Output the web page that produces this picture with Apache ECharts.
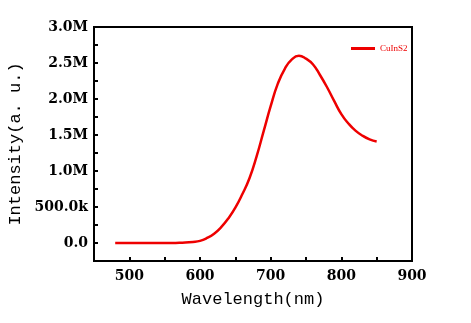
<!DOCTYPE html>
<html><head><meta charset="utf-8">
<script src="https://cdn.jsdelivr.net/npm/echarts@6/dist/echarts.min.js"></script>
<style>html,body{margin:0;padding:0;background:#fff}#c{width:471px;height:323px}</style>
</head><body><div id="c"></div>
<script>
const wavelength = [480,500,520,540,560,575,590,600,610,620,630,640,650,660,670,680,690,700,710,720,730,740,750,760,770,780,790,800,810,820,830,840,850];
const intensity = [0,0,0,0,0,5000,15000,30000,70000,130000,220000,340000,490000,680000,900000,1200000,1550000,1900000,2210000,2420000,2550000,2600000,2560000,2480000,2330000,2160000,1970000,1790000,1660000,1560000,1490000,1440000,1410000];
const seriesName = 'CuInS2';
const yTickLabels = {0:'0.0',500000:'500.0k',1000000:'1.0M',1500000:'1.5M',2000000:'2.0M',2500000:'2.5M',3000000:'3.0M'};

const chart = echarts.init(document.getElementById('c'));
chart.setOption({
  animation:false,
  grid:{left:94,right:59,top:27,bottom:62,show:true,borderColor:'#000',borderWidth:2,
    containLabel:false,outerBoundsMode:'none'},
  legend:{show:true,left:351,top:44,padding:0,itemWidth:24,itemHeight:3,itemGap:0,icon:'rect',
    textStyle:{color:'#ee0000',fontFamily:'Liberation Serif',fontSize:9},
    data:[seriesName]},
  xAxis:{type:'value',min:450,max:900,interval:50,
    name:'Wavelength(nm)',nameLocation:'middle',nameGap:30,
    nameTextStyle:{fontFamily:'Liberation Mono',fontSize:17,color:'#000'},
    axisLine:{onZero:false,lineStyle:{color:'#000',width:2}},
    axisTick:{inside:true,length:4,lineStyle:{color:'#000',width:2}},
    splitLine:{show:false},
    axisLabel:{color:'#000',fontFamily:'DejaVu Serif',fontWeight:'bold',fontSize:14,margin:8,
      formatter:v=> (v%100===0 && v>450) ? String(v) : ''}},
  yAxis:{type:'value',min:-250000,max:3000000,interval:250000,
    name:'Intensity(a. u.)',nameLocation:'middle',nameGap:68,
    nameTextStyle:{fontFamily:'Liberation Mono',fontSize:17,color:'#000'},
    axisLine:{show:true,onZero:false,lineStyle:{color:'#000',width:2}},
    axisTick:{inside:true,length:4,lineStyle:{color:'#000',width:2}},
    splitLine:{show:false},
    axisLabel:{color:'#000',fontFamily:'DejaVu Serif',fontWeight:'bold',fontSize:14,margin:6,
      formatter:v=> yTickLabels[v]!==undefined ? yTickLabels[v] : ''}},
  series:[{name:seriesName,type:'line',smooth:true,showSymbol:false,
    lineStyle:{color:'#ee0000',width:2.5},itemStyle:{color:'#ee0000'},
    data:wavelength.map((w,i)=>[w,intensity[i]])}]
});
</script></body></html>
